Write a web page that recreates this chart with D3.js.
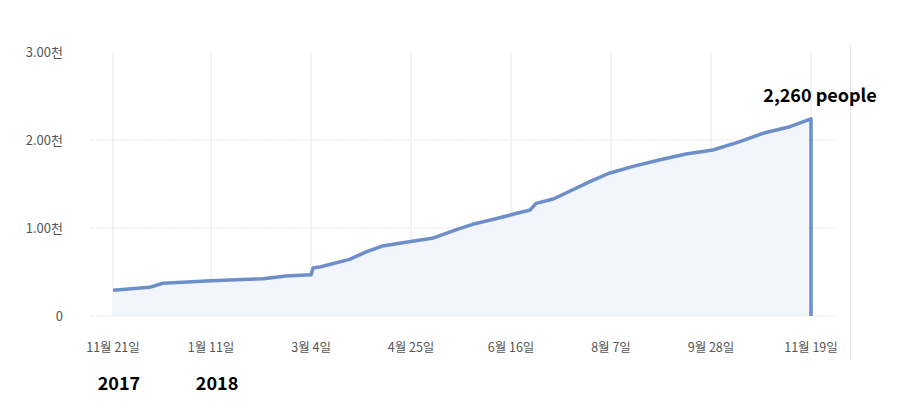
<!DOCTYPE html>
<html>
<head>
<meta charset="utf-8">
<script src="https://cdn.jsdelivr.net/npm/d3@7"></script>
<style>
    body { margin: 0; background: #fff; }
    svg { display: block; font-family: "Noto Sans CJK KR", "Noto Sans", sans-serif; }
</style>
</head>
<body>
<svg id="chart" width="904" height="420"></svg>
<script>
// 누적 인원 (날짜, 값)
var dates = ["2017-11-21", "2017-12-10", "2017-12-17", "2018-01-11", "2018-02-07", "2018-02-19",
    "2018-03-04", "2018-03-05", "2018-03-09", "2018-03-24", "2018-04-02", "2018-04-10", "2018-04-24",
    "2018-05-06", "2018-05-19", "2018-05-27", "2018-06-07", "2018-06-19", "2018-06-26", "2018-06-29",
    "2018-07-08", "2018-07-27", "2018-08-06", "2018-08-18", "2018-09-01", "2018-09-15", "2018-09-29",
    "2018-10-13", "2018-10-25", "2018-11-08", "2018-11-19", "2018-11-19"];
var values = [292, 326, 372, 401, 424, 455,
    470, 545, 560, 644, 731, 795, 844,
    883, 985, 1042, 1099, 1167, 1205, 1280,
    1330, 1527, 1622, 1697, 1773, 1841, 1886,
    1981, 2076, 2151, 2240, 0];
var tickDates = ["2017-11-21", "2018-01-11", "2018-03-04", "2018-04-25", "2018-06-16", "2018-08-07", "2018-09-28", "2018-11-19"];
var yTicks = [0, 1000, 2000, 3000];
var yTickLabels = ["0", "1.00천", "2.00천", "3.00천"];
var yearLabels = [["2017-11-21", "2017"], ["2018-01-11", "2018"]];
var lastLabel = "2,260 people";

var parse = d3.timeParse("%Y-%m-%d");
var data = dates.map(function (d, i) {
    return {date: parse(d), value: values[i]};
});

var svg = d3.select("#chart");

var x = d3.scaleTime()
    .domain([parse("2017-11-21"), parse("2018-11-19")])
    .range([113, 811]);
var y = d3.scaleLinear()
    .domain([0, 3000])
    .range([316, 52]);

// 세로 그리드
svg.append("g")
    .selectAll("line")
    .data(tickDates)
    .enter().append("line")
    .attr("x1", function (d) { return x(parse(d)); })
    .attr("x2", function (d) { return x(parse(d)); })
    .attr("y1", y(3000))
    .attr("y2", y(0))
    .style("stroke", "#e4e7ed")
    .style("stroke-width", 1);

// 가로 그리드
svg.append("g")
    .selectAll("line")
    .data(yTicks.slice(0, 3))
    .enter().append("line")
    .attr("x1", 90)
    .attr("x2", 835)
    .attr("y1", function (d) { return y(d); })
    .attr("y2", function (d) { return y(d); })
    .style("stroke", "#e1e5ec")
    .style("stroke-width", 1)
    .style("stroke-dasharray", "2,1");

// 오른쪽 경계선
svg.append("line")
    .attr("x1", 850.5).attr("x2", 850.5)
    .attr("y1", 44).attr("y2", 360)
    .style("stroke", "#e4e7ed")
    .style("stroke-width", 1);

// 면적
var area = d3.area()
    .x(function (d) { return x(d.date); })
    .y0(y(0))
    .y1(function (d) { return y(d.value); });
svg.append("path")
    .datum(data)
    .attr("d", area)
    .style("fill", "#f2f5fb");

var line = d3.line()
    .x(function (d) { return x(d.date); })
    .y(function (d) { return y(d.value); });
svg.append("path")
    .datum(data)
    .attr("d", line)
    .style("fill", "none")
    .style("stroke", "#6c8fca")
    .style("stroke-width", 3.5)
    .style("stroke-linejoin", "round");

// y축 라벨
svg.append("g")
    .selectAll("text")
    .data(yTicks)
    .enter().append("text")
    .attr("x", 63)
    .attr("y", function (d) { return y(d); })
    .attr("dy", "0.35em")
    .attr("text-anchor", "end")
    .attr("font-size", 13)
    .style("fill", "#555")
    .text(function (d, i) { return yTickLabels[i]; });

// x축 라벨
svg.append("g")
    .selectAll("text")
    .data(tickDates)
    .enter().append("text")
    .attr("x", function (d) { return x(parse(d)); })
    .attr("y", 348)
    .attr("dy", "0.35em")
    .attr("text-anchor", "middle")
    .attr("font-size", 12.5)
    .style("fill", "#555")
    .text(function (d) { return d3.timeFormat("%-m월 %-d일")(parse(d)); });

// 연도
svg.append("g")
    .selectAll("text")
    .data(yearLabels)
    .enter().append("text")
    .attr("x", function (d) { return x(parse(d[0])) + 6; })
    .attr("y", 390)
    .attr("text-anchor", "middle")
    .attr("font-size", 18)
    .attr("font-weight", "bold")
    .style("fill", "#000")
    .text(function (d) { return d[1]; });

// 마지막 값
var last = data[data.length - 2];
svg.append("text")
    .attr("x", x(last.date) + 9)
    .attr("y", 102)
    .attr("text-anchor", "middle")
    .attr("font-size", 18)
    .attr("font-weight", "bold")
    .style("fill", "#000")
    .text(lastLabel);
</script>
</body>
</html>
